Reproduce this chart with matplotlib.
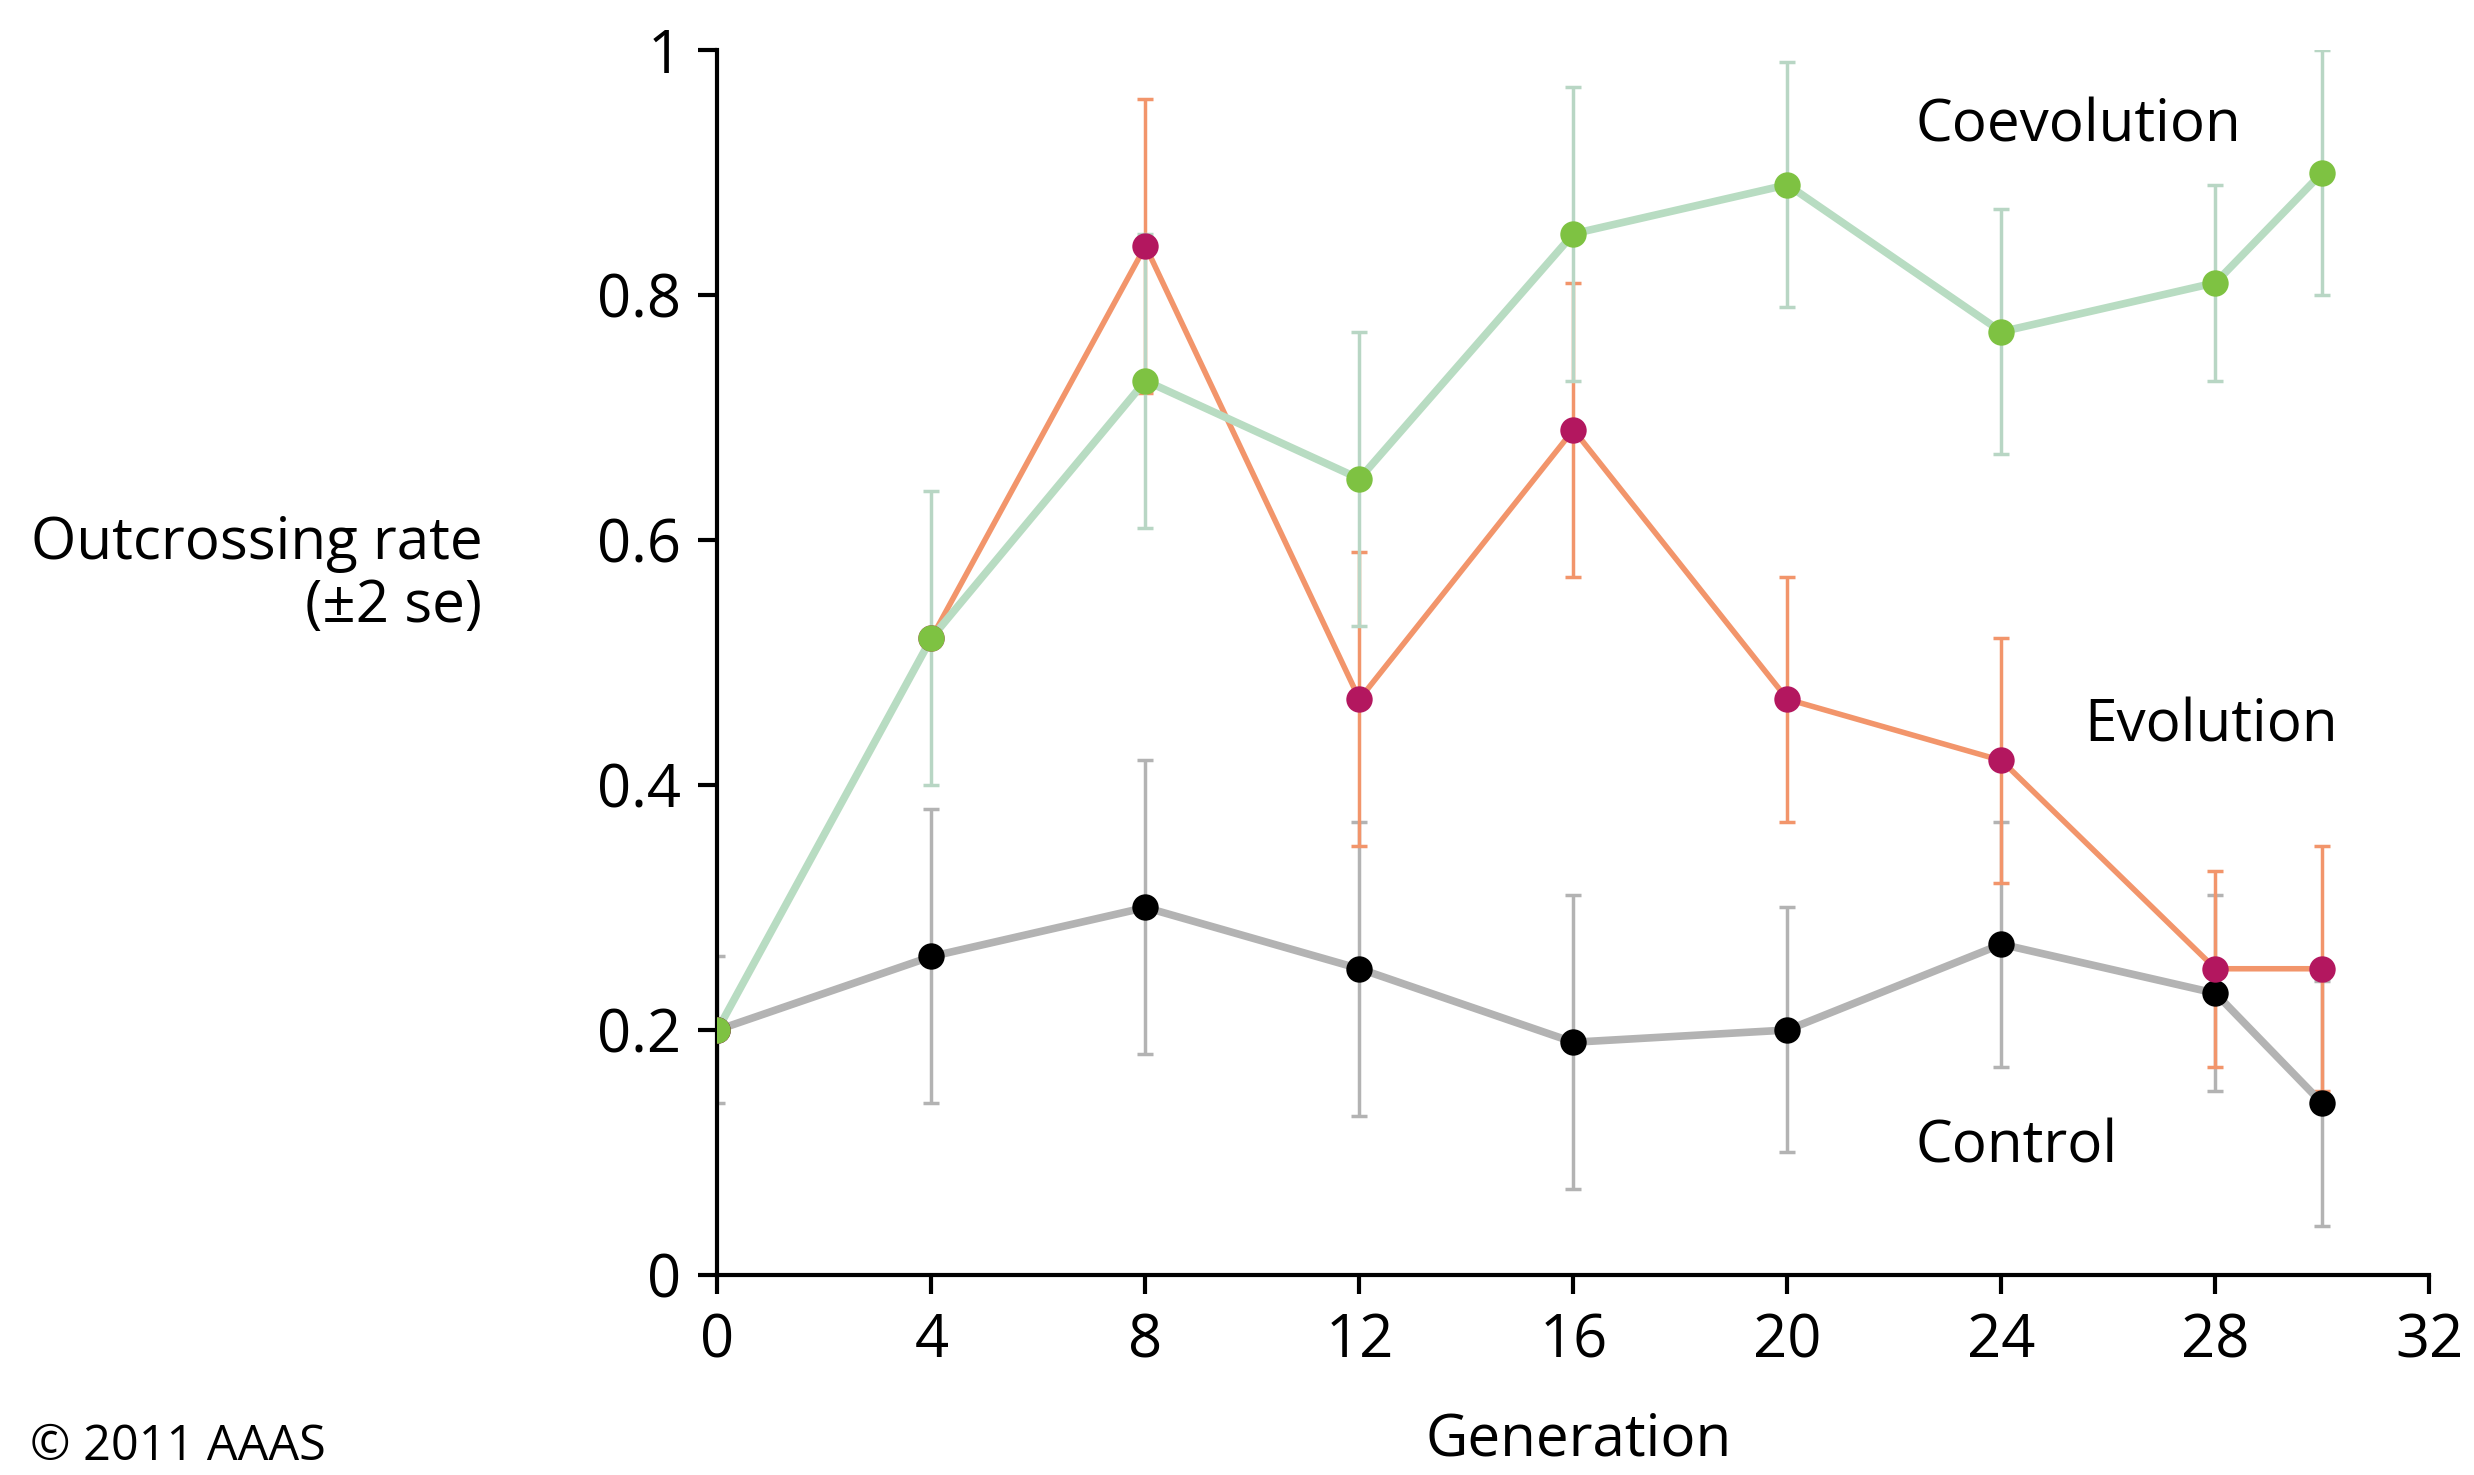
import numpy as np
import matplotlib
matplotlib.use("Agg")
import matplotlib.pyplot as plt

plt.rcParams['font.family'] = ['Open Sans', 'DejaVu Sans']

generations = [0, 4, 8, 12, 16, 20, 24, 28, 30]

control_mean = [0.20, 0.26, 0.30, 0.25, 0.19, 0.20, 0.27, 0.23, 0.14]
control_lo   = [0.14, 0.14, 0.18, 0.13, 0.07, 0.10, 0.17, 0.15, 0.04]
control_hi   = [0.26, 0.38, 0.42, 0.37, 0.31, 0.30, 0.37, 0.31, 0.24]

evolution_mean = [0.20, 0.52, 0.84, 0.47, 0.69, 0.47, 0.42, 0.25, 0.25]
evolution_lo   = [np.nan, np.nan, 0.72, 0.35, 0.57, 0.37, 0.32, 0.17, 0.15]
evolution_hi   = [np.nan, np.nan, 0.96, 0.59, 0.81, 0.57, 0.52, 0.33, 0.35]

coevolution_mean = [0.20, 0.52, 0.73, 0.65, 0.85, 0.89, 0.77, 0.81, 0.90]
coevolution_lo   = [np.nan, 0.40, 0.61, 0.53, 0.73, 0.79, 0.67, 0.73, 0.80]
coevolution_hi   = [np.nan, 0.64, 0.85, 0.77, 0.97, 0.99, 0.87, 0.89, 1.00]

x_ticks = [0, 4, 8, 12, 16, 20, 24, 28, 32]
y_ticks = [0, 0.2, 0.4, 0.6, 0.8, 1.0]
y_tick_labels = ['0', '0.2', '0.4', '0.6', '0.8', '1']

series = [
    # name, mean, lo, hi, line color, err color, marker color, line width, label pos
    ('Control', control_mean, control_lo, control_hi, '#b3b3b3', '#b3b3b3', '#000000', 5.5, (22.4, 0.104)),
    ('Evolution', evolution_mean, evolution_lo, evolution_hi, '#f2956b', '#f2956b', '#b3175f', 4.0, (25.55, 0.448)),
    ('Coevolution', coevolution_mean, coevolution_lo, coevolution_hi, '#b8dcc2', '#b8d6c4', '#7ec242', 5.5, (22.4, 0.938)),
]

fig = plt.figure(figsize=(24.74, 14.75), dpi=100)
ax = fig.add_axes([0.290, 0.1356, 0.692, 0.8305])

x = np.array(generations, dtype=float)
for i, (name, m, lo, hi, lc, ec, mc, lw, pos) in enumerate(series):
    m = np.array(m); lo = np.array(lo); hi = np.array(hi)
    ok = ~np.isnan(lo)
    ax.errorbar(x[ok], m[ok], yerr=[m[ok] - lo[ok], hi[ok] - m[ok]], fmt='none',
                ecolor=ec, elinewidth=2.5, capsize=6, capthick=2.5, zorder=1 + i)
    ax.plot(x, m, color=lc, lw=lw, zorder=4 + i, solid_capstyle='round')
    ax.plot(x, m, linestyle='none', marker='o', markersize=19, color=mc,
            markeredgewidth=0, zorder=7 + i)
    ax.text(pos[0], pos[1], name, fontsize=42, ha='left', va='center', color='black')

ax.set_xlim(0, 32)
ax.set_ylim(0, 1)
ax.set_xticks(x_ticks)
ax.set_xticklabels([str(t) for t in x_ticks])
ax.set_yticks(y_ticks)
ax.set_yticklabels(y_tick_labels)
for s in ['top', 'right']:
    ax.spines[s].set_visible(False)
for s in ['left', 'bottom']:
    ax.spines[s].set_linewidth(3)
    ax.spines[s].set_clip_on(False)
ax.tick_params(axis='both', direction='out', length=14, width=3, labelsize=43, pad=12)

fig.text(0.195, 0.61, 'Outcrossing rate\n(±2 se)', fontsize=42, ha='right', va='center',
         multialignment='right', linespacing=1.12)
fig.text(0.638, 0.004, 'Generation', fontsize=42, ha='center', va='bottom')
fig.text(0.012, 0.002, '© 2011 AAAS', fontsize=35, ha='left', va='bottom')

fig.savefig('out.png', dpi=100)
